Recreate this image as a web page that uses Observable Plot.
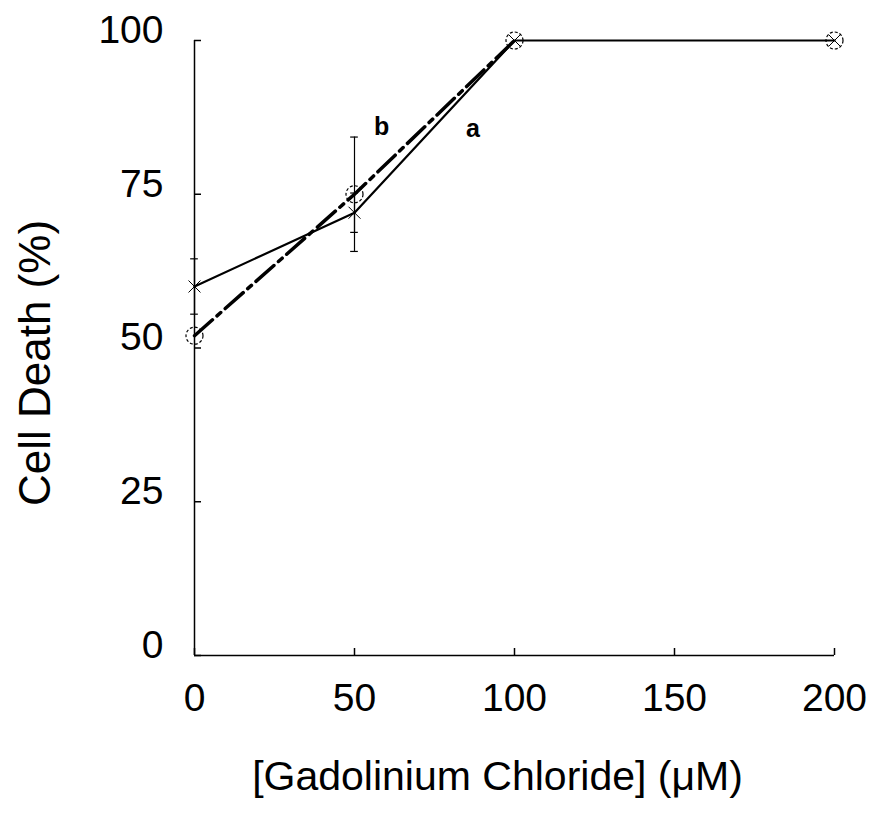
<!DOCTYPE html>
<html>
<head>
<meta charset="utf-8">
<script src="https://cdn.jsdelivr.net/npm/d3@7"></script>
<script src="https://cdn.jsdelivr.net/npm/@observablehq/plot@0.6"></script>
<style>
  html, body { margin: 0; padding: 0; background: #fff; }
  #chart { width: 874px; height: 821px; }
</style>
</head>
<body>
<div id="chart"></div>
<script>
// Data
const conc = [0, 50, 100, 200];            // [Gadolinium Chloride] (µM)
const deathA = [60, 72, 100, 100];         // series a (solid, × markers)
const deathB = [52, 75, 100, 100];         // series b (dash-dot, ○ markers)
const errA = [4.5, 3.2, 0, 0];
const errB = [0, 9.3, 0, 0];
const xTicks = [0, 50, 100, 150, 200];
const yTicks = [0, 25, 50, 75, 100];
const seriesNames = ["a", "b"];
const labelX = [87, 58.5];
const labelY = [85.6, 86];

const A = conc.map((x, i) => ({x, y: deathA[i], e: errA[i]}));
const B = conc.map((x, i) => ({x, y: deathB[i], e: errB[i]}));
const errs = [...A, ...B].filter(d => d.e > 0);
const labels = seriesNames.map((s, i) => ({s, x: labelX[i], y: labelY[i]}));
const cap = 1.2;

const chart = Plot.plot({
  width: 874,
  height: 821,
  marginLeft: 194,
  marginRight: 40,
  marginTop: 40,
  marginBottom: 166,
  style: {fontFamily: "'Liberation Sans', Arial, sans-serif", background: "#fff", color: "#000", overflow: "visible"},
  x: {domain: [0, 200]},
  y: {domain: [0, 100]},
  marks: [
    // axis lines
    Plot.ruleX([0], {stroke: "#000", strokeWidth: 1.5}),
    Plot.ruleY([0], {stroke: "#000", strokeWidth: 1.5}),
    // inward ticks
    Plot.axisX({ticks: xTicks, tickSize: -7, tickFormat: () => "", label: null, stroke: "#000", strokeWidth: 1.5}),
    Plot.axisY({ticks: yTicks, tickSize: -7, tickFormat: () => "", label: null, stroke: "#000", strokeWidth: 1.5}),
    // tick labels
    Plot.axisX({ticks: xTicks, tickSize: 0, tickPadding: 28, fontSize: 39, label: null, fill: "#000"}),
    Plot.axisY({ticks: yTicks, tickSize: 0, tickPadding: 31, fontSize: 39, label: null, dy: -10, fill: "#000"}),
    // axis titles
    Plot.text(["Cell Death (%)"], {frameAnchor: "left", rotate: -90, dx: -159, dy: 15, fontSize: 44, fill: "#000", textAnchor: "middle", lineAnchor: "middle"}),
    Plot.text(["[Gadolinium Chloride] (\u03bcM)"], {frameAnchor: "bottom", dx: -17, dy: 121, fontSize: 41, fill: "#000", textAnchor: "middle", lineAnchor: "middle"}),
    // error bars
    Plot.ruleX(errs, {x: "x", y1: d => d.y - d.e, y2: d => d.y + d.e, stroke: "#000", strokeWidth: 1.2}),
    Plot.ruleY(errs, {y: d => d.y - d.e, x1: d => d.x - cap, x2: d => d.x + cap, stroke: "#000", strokeWidth: 1.2}),
    Plot.ruleY(errs, {y: d => d.y + d.e, x1: d => d.x - cap, x2: d => d.x + cap, stroke: "#000", strokeWidth: 1.2}),
    // series lines (b's dash-dot runs up to the plateau; a's solid line covers the plateau)
    Plot.line(B.filter(d => d.x <= 100), {x: "x", y: "y", stroke: "#000", strokeWidth: 3.5, strokeDasharray: "24,6,5,6"}),
    Plot.line(A, {x: "x", y: "y", stroke: "#000", strokeWidth: 2.2}),
    // markers
    Plot.dot(B, {x: "x", y: "y", r: 8.5, stroke: "#000", fill: "none", strokeWidth: 1.2, strokeDasharray: "3,2"}),
    Plot.dot(A, {x: "x", y: "y", symbol: "times", r: 5.5, stroke: "#000", strokeWidth: 1}),
    // series labels
    Plot.text(labels, {x: "x", y: "y", text: "s", fontSize: 25, fontWeight: "bold", fill: "#000"})
  ]
});
document.getElementById("chart").appendChild(chart);
</script>
</body>
</html>
